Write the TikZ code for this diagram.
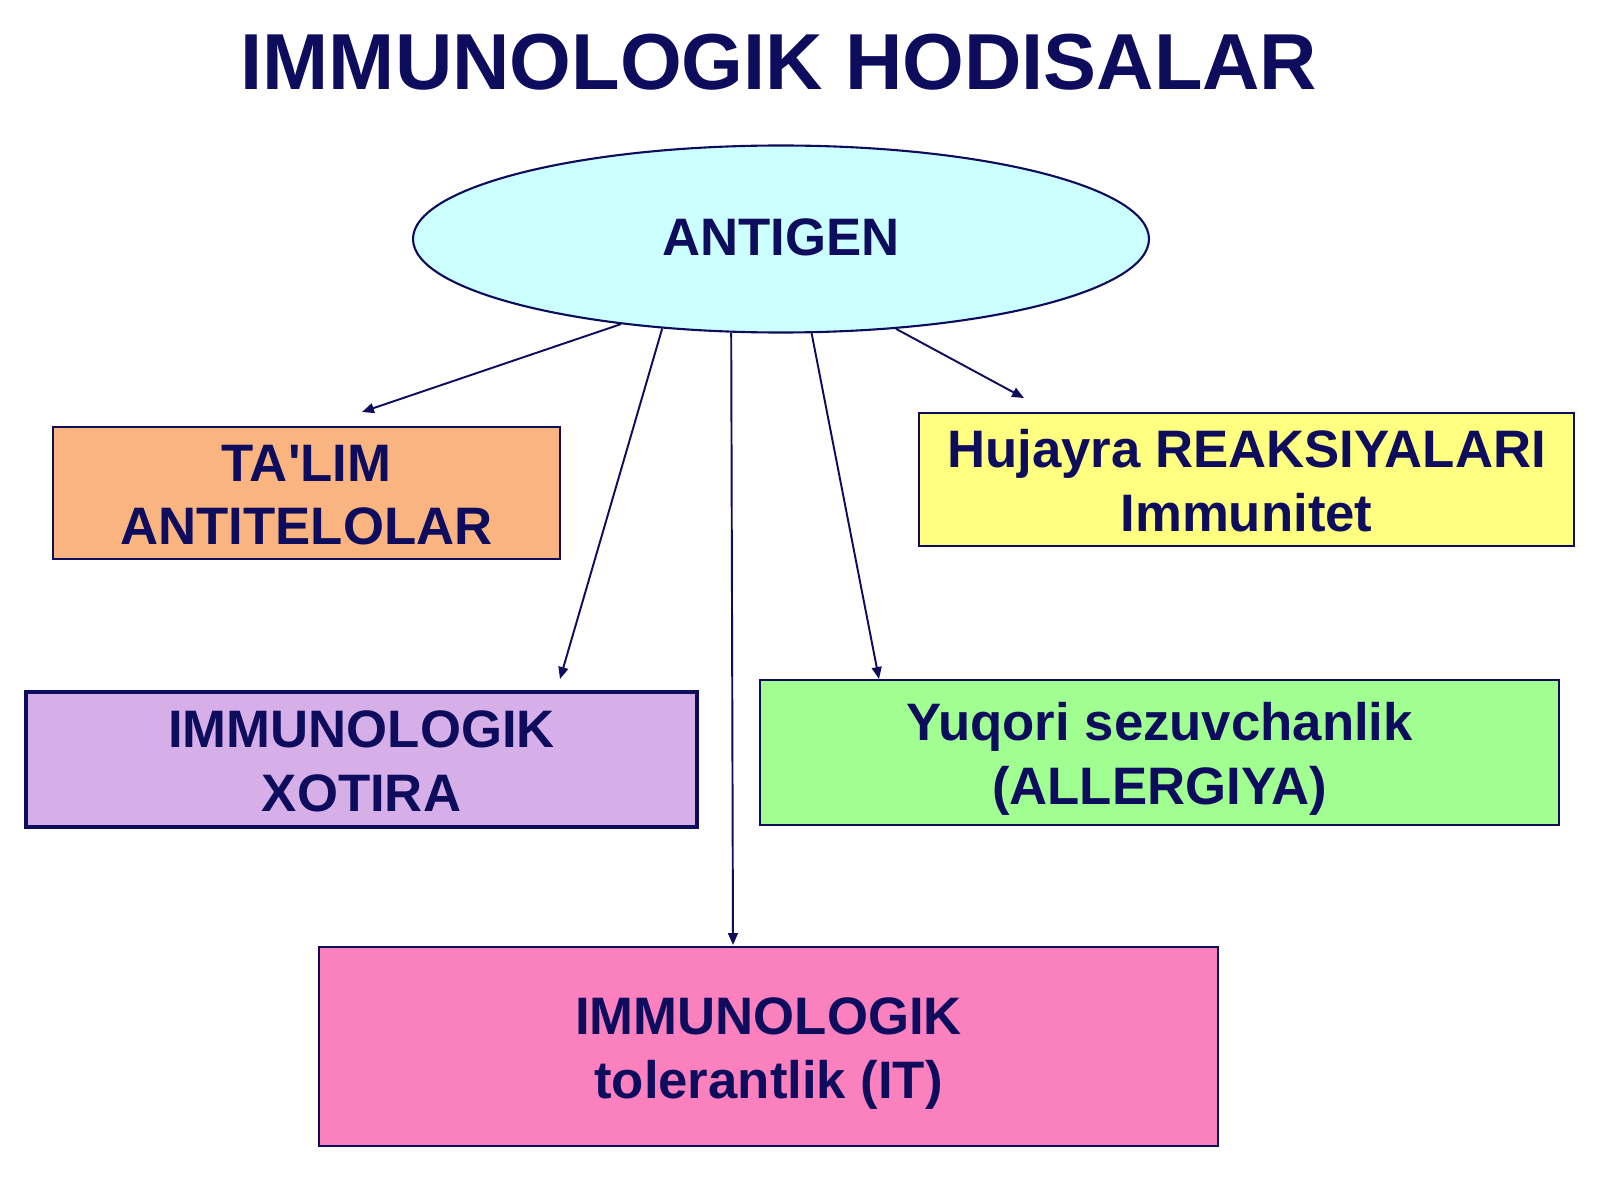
\documentclass[tikz,border=0pt]{standalone}
\usepackage{fontspec}
\setmainfont{Liberation Sans}
\usetikzlibrary{shapes.geometric,arrows.meta}
\definecolor{ink}{RGB}{14,12,92}
\definecolor{cyanfill}{RGB}{204,255,255}
\definecolor{orangefill}{RGB}{250,180,128}
\definecolor{violetfill}{RGB}{214,174,232}
\definecolor{yellowfill}{RGB}{255,255,128}
\definecolor{greenfill}{RGB}{160,255,144}
\definecolor{pinkfill}{RGB}{250,128,190}
\begin{document}
\begin{tikzpicture}[x=0.1mm,y=-0.1mm,
    box/.style={draw=ink,line width=0.6pt,inner sep=0pt,align=center,
      text=ink,font=\fontsize{15}{18}\selectfont\bfseries,
      text height=29.4pt,text depth=0pt},
    link/.style={draw=ink,line width=0.55pt,-{Triangle[length=3.4pt,width=2.8pt]}}]
      \useasboundingbox (0,0) rectangle (1600,1200);
      \draw
        (779,62) node[text=ink,font=\fontsize{22.6}{27}\selectfont\bfseries] (title){IMMUNOLOGIK HODISALAR}
        (781,239) node[box,ellipse,text height=10.7pt,text depth=1.1pt,fill=cyanfill,minimum width=73.6mm,minimum height=18.7mm] (antigen){ANTIGEN}
        (306.5,493) node[box,fill=orangefill,minimum width=50.7mm,minimum height=13.2mm] (talim){TA\textquotesingle LIM\\ANTITELOLAR}
        (361.5,759.5) node[box,fill=violetfill,line width=0.95pt,minimum width=67.1mm,minimum height=13.5mm] (xotira){IMMUNOLOGIK\\XOTIRA}
        (1246.5,479.5) node[box,fill=yellowfill,minimum width=65.5mm,minimum height=13.3mm] (hujayra){Hujayra REAKSIYALARI\\Immunitet}
        (1159.5,752.5) node[box,fill=greenfill,minimum width=79.9mm,minimum height=14.5mm] (allergiya){Yuqori sezuvchanlik\\(ALLERGIYA)}
        (768.5,1046.5) node[box,fill=pinkfill,minimum width=89.9mm,minimum height=19.9mm] (tolerant){IMMUNOLOGIK\\tolerantlik (IT)};
      \coordinate (e1) at (362,412);
      \coordinate (e2) at (560,679);
      \coordinate (e3) at (733,945);
      \coordinate (e4) at (879,679);
      \coordinate (e5) at (1024,398);
      \begin{scope}[link]
        \draw (antigen.208.7) to (e1);
        \draw (antigen.217.6) to (e2);
        \draw (antigen.242.9) to (e3);
        \draw (antigen.288.8) to (e4);
        \draw (antigen.322) to (e5);
      \end{scope}
    \end{tikzpicture}
\end{document}
